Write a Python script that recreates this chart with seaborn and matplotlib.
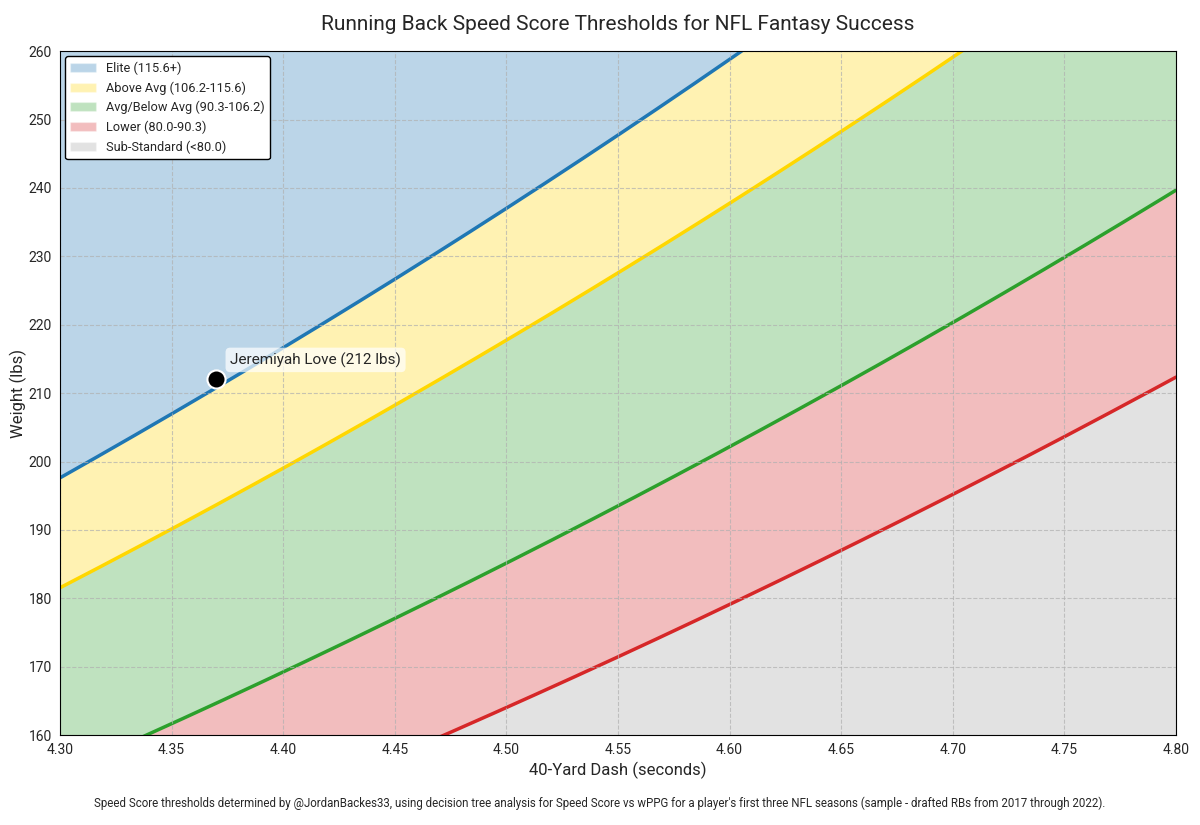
import numpy as np
import pandas as pd
import seaborn as sns
import matplotlib
matplotlib.use("Agg")
import matplotlib.pyplot as plt
from matplotlib.patches import Patch

# Data
thresholds = [115.6, 106.2, 90.3, 80.0]
labels = ["Elite (115.6+)", "Above Avg (106.2-115.6)", "Avg/Below Avg (90.3-106.2)",
          "Lower (80.0-90.3)", "Sub-Standard (<80.0)"]
line_colors = ["#1f77b4", "#FFD700", "#2ca02c", "#d62728"]
fill_colors = ["#1f77b4", "#FFD700", "#2ca02c", "#d62728", "#a0a0a0"]
player_name = "Jeremiyah Love"
player_time = 4.37
player_weight = 212
x_range = [4.30, 4.80]
y_range = [160, 260]

sns.set_theme(style="whitegrid")
plt.rcParams['font.family'] = ['Roboto', 'DejaVu Sans']

fig, ax = plt.subplots(figsize=(12, 8.25), dpi=100)
fig.subplots_adjust(left=0.05, right=0.98, top=0.938, bottom=0.109)

t = np.linspace(x_range[0], x_range[1], 300)
curves = [s * t**4 / 200.0 for s in thresholds]
bounds = [np.full_like(t, 400.0)] + curves + [np.full_like(t, 0.0)]
for i in range(5):
    ax.fill_between(t, bounds[i + 1], bounds[i], color=fill_colors[i], alpha=0.3, linewidth=0)
for i, c in enumerate(curves):
    df = pd.DataFrame({"t": t, "w": c})
    sns.lineplot(data=df, x="t", y="w", ax=ax, color=line_colors[i], linewidth=2.5)

ax.scatter([player_time], [player_weight], s=170, color="black", edgecolor="white", linewidth=1.5, zorder=5)
ax.annotate(f"{player_name} ({player_weight} lbs)", (player_time, player_weight),
            xytext=(10, 11), textcoords="offset points", fontsize=11,
            bbox=dict(boxstyle="round,pad=0.3", fc="white", ec="none", alpha=0.7), zorder=6)

ax.set_xlim(*x_range)
ax.set_ylim(*y_range)
ax.set_xticks(np.arange(4.30, 4.801, 0.05))
ax.set_xticklabels([f"{v:.2f}" for v in np.arange(4.30, 4.801, 0.05)])
ax.set_yticks(np.arange(160, 261, 10))
ax.set_facecolor("white")
ax.grid(True, linestyle="--", color="#b0b0b0", alpha=0.7, linewidth=0.8)
ax.set_axisbelow(False)
for sp in ax.spines.values():
    sp.set_color("black")
    sp.set_linewidth(0.8)
    sp.set_zorder(10)
ax.tick_params(axis="both", direction="out", length=4, width=0.8, color="black", labelsize=10, pad=2)
ax.set_xlabel("40-Yard Dash (seconds)", fontsize=12, labelpad=3)
ax.set_ylabel("Weight (lbs)", fontsize=12, labelpad=1)
ax.set_title("Running Back Speed Score Thresholds for NFL Fantasy Success", fontsize=15, pad=15)

handles = [Patch(facecolor=fill_colors[i], alpha=0.3, label=labels[i]) for i in range(5)]
leg = ax.legend(handles=handles, loc="upper left", fontsize=9.2, frameon=True, fancybox=True,
                borderaxespad=0.4)
leg.get_frame().set_edgecolor("black")
leg.get_frame().set_alpha(1)

fig.text(0.5, 0.022, "Speed Score thresholds determined by @JordanBackes33, using decision tree analysis for Speed Score vs wPPG for a player's first three NFL seasons (sample - drafted RBs from 2017 through 2022).",
         ha="center", fontsize=8.3)

fig.savefig("out.png", dpi=100)
